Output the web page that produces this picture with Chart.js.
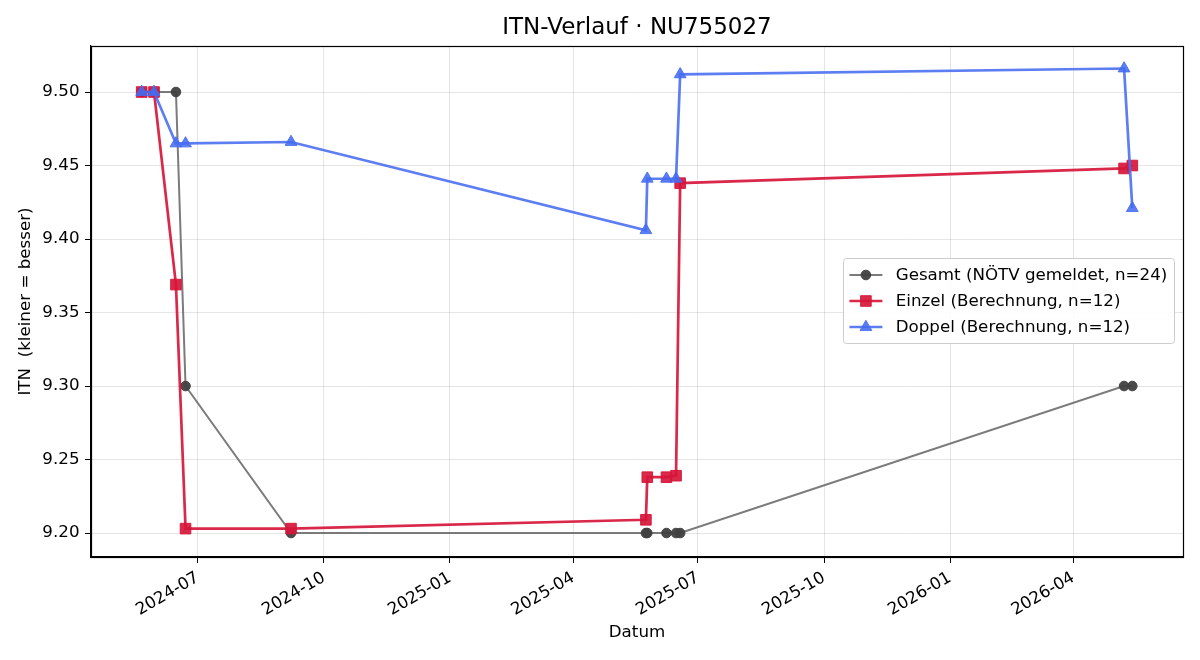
<!DOCTYPE html>
<html>
<head>
<meta charset="utf-8">
<script src="https://cdn.jsdelivr.net/npm/chart.js@4.4.1/dist/chart.umd.min.js"></script>
<style>
  html, body { margin: 0; padding: 0; background: #fff; }
  #wrap { width: 1200px; height: 660px; }
</style>
</head>
<body>
<div id="wrap"><canvas id="chart" width="1200" height="660"></canvas></div>
<script>
// Daten
var titel = 'ITN-Verlauf \u00b7 NU755027';
var datum = ['2024-05-21', '2024-05-30', '2024-06-15', '2024-06-22', '2024-09-07', '2025-05-24',
             '2025-05-25', '2025-06-08', '2025-06-15', '2025-06-18', '2026-05-08', '2026-05-14'];
var gesamt = [9.50, 9.50, 9.50, 9.30, 9.20, 9.20, 9.20, 9.20, 9.20, 9.20, 9.30, 9.30];
var einzel = [9.50, 9.50, 9.369, 9.203, 9.203, 9.209, 9.238, 9.238, 9.239, 9.438, 9.448, 9.450];
var doppel = [9.50, 9.50, 9.465, 9.465, 9.466, 9.406, 9.441, 9.441, 9.441, 9.512, 9.516, 9.421];
var serienNamen = ['Gesamt (N\u00d6TV gemeldet, n=24)', 'Einzel (Berechnung, n=12)', 'Doppel (Berechnung, n=12)'];
var xTickDaten = ['2024-07-01', '2024-10-01', '2025-01-01', '2025-04-01', '2025-07-01', '2025-10-01', '2026-01-01', '2026-04-01'];
var xTickLabels = ['2024-07', '2024-10', '2025-01', '2025-04', '2025-07', '2025-10', '2026-01', '2026-04'];
var yTicks = [9.20, 9.25, 9.30, 9.35, 9.40, 9.45, 9.50];

var FONT = "'DejaVu Sans', 'Liberation Sans', sans-serif";
var FS = 16.7;

function ts(s) {
    return Date.parse(s + 'T00:00:00Z');
}

function punkte(werte) {
    return werte.map(function (v, i) { return { x: ts(datum[i]), y: v }; });
}

var farben = {
    gesamtLinie: 'rgba(100,100,100,0.85)',
    gesamtPunkt: 'rgba(64,64,64,0.95)',
    einzel: 'rgba(214,22,58,0.92)',
    doppel: 'rgba(70,108,240,0.88)'
};

var titelPlugin = {
    id: 'titelPlugin',
    afterDraw: function (chart) {
        var ctx = chart.ctx, a = chart.chartArea;
        ctx.save();
        ctx.fillStyle = '#000';
        ctx.font = '23px ' + FONT;
        ctx.textAlign = 'center';
        ctx.textBaseline = 'middle';
        ctx.fillText(titel, (a.left + a.right) / 2, 28);
        ctx.restore();
    }
};

var rahmenPlugin = {
    id: 'rahmenPlugin',
    afterDatasetsDraw: function (chart) {
        var ctx = chart.ctx, a = chart.chartArea;
        ctx.save();
        ctx.strokeStyle = '#000';
        ctx.lineWidth = 1.2;
        ctx.strokeRect(Math.round(a.left) + 0.5, Math.round(a.top) + 0.5,
                       Math.round(a.right - a.left), Math.round(a.bottom - a.top));
        ctx.restore();
    }
};

function marker(ctx, stil, x, y, fuell, rand) {
    ctx.fillStyle = fuell;
    ctx.strokeStyle = rand;
    ctx.lineWidth = 1;
    ctx.beginPath();
    if (stil === 'circle') {
        ctx.arc(x, y, 4.8, 0, Math.PI * 2);
    } else if (stil === 'rect') {
        ctx.rect(x - 5.3, y - 5.3, 10.6, 10.6);
    } else {
        ctx.moveTo(x, y - 6.8);
        ctx.lineTo(x + 5.9, y + 3.4);
        ctx.lineTo(x - 5.9, y + 3.4);
        ctx.closePath();
    }
    ctx.fill();
    ctx.stroke();
}

var legendePlugin = {
    id: 'legendePlugin',
    afterDraw: function (chart) {
        var ctx = chart.ctx, a = chart.chartArea;
        ctx.save();
        ctx.font = FS + 'px ' + FONT;
        var maxB = 0;
        serienNamen.forEach(function (n) { maxB = Math.max(maxB, ctx.measureText(n).width); });
        var breite = 6.7 + 33 + 13.3 + maxB + 6.7;
        var hoehe = 85;
        var rechts = a.right - 9;
        var links = rechts - breite;
        var oben = (a.top + a.bottom) / 2 - hoehe / 2 - 1;
        ctx.fillStyle = 'rgba(255,255,255,0.85)';
        ctx.strokeStyle = '#cccccc';
        ctx.lineWidth = 1;
        ctx.beginPath();
        ctx.roundRect(Math.round(links) + 0.5, Math.round(oben) + 0.5, Math.round(breite), hoehe, 3);
        ctx.fill();
        ctx.stroke();
        chart.data.datasets.forEach(function (ds, i) {
            var y = oben + 17 + i * 26;
            var x0 = links + 6.7;
            ctx.strokeStyle = ds.borderColor;
            ctx.lineWidth = ds.borderWidth;
            ctx.beginPath();
            ctx.moveTo(x0, y);
            ctx.lineTo(x0 + 33, y);
            ctx.stroke();
            marker(ctx, ds.pointStyle, x0 + 16.5, y, ds.pointBackgroundColor, ds.pointBorderColor);
            ctx.fillStyle = '#000';
            ctx.textAlign = 'left';
            ctx.textBaseline = 'middle';
            ctx.fillText(serienNamen[i], x0 + 46.3, y + 1);
        });
        ctx.restore();
    }
};

var ctx = document.getElementById('chart').getContext('2d');

var chart = new Chart(ctx, {
    type: 'line',
    data: {
        datasets: [{
            label: serienNamen[0],
            data: punkte(gesamt),
            borderColor: farben.gesamtLinie,
            borderWidth: 2,
            pointStyle: 'circle',
            pointRadius: 4.8,
            pointBackgroundColor: farben.gesamtPunkt,
            pointBorderColor: farben.gesamtPunkt,
            pointBorderWidth: 1,
            order: 2
        }, {
            label: serienNamen[1],
            data: punkte(einzel),
            borderColor: farben.einzel,
            borderWidth: 2.7,
            pointStyle: 'rect',
            pointRadius: 7.5,
            pointBackgroundColor: farben.einzel,
            pointBorderColor: farben.einzel,
            pointBorderWidth: 1,
            order: 1
        }, {
            label: serienNamen[2],
            data: punkte(doppel),
            borderColor: farben.doppel,
            borderWidth: 2.7,
            pointStyle: 'triangle',
            pointRadius: 6.8,
            pointBackgroundColor: farben.doppel,
            pointBorderColor: farben.doppel,
            pointBorderWidth: 1,
            order: 0
        }]
    },
    options: {
        responsive: false,
        animation: false,
        layout: { padding: { left: 0, right: 17, top: 46, bottom: 0 } },
        plugins: {
            legend: { display: false },
            title: { display: false },
            tooltip: { enabled: false }
        },
        elements: { line: { tension: 0 } },
        scales: {
            x: {
                type: 'linear',
                min: ts('2024-04-14'),
                max: ts('2026-06-20'),
                afterBuildTicks: function (scale) {
                    scale.ticks = xTickDaten.map(function (d) { return { value: ts(d) }; });
                },
                afterFit: function (scale) { scale.height = 103; },
                ticks: {
                    autoSkip: false,
                    minRotation: 30,
                    maxRotation: 30,
                    padding: 5,
                    color: '#000',
                    font: { family: FONT, size: FS },
                    callback: function (v, i) { return xTickLabels[i]; }
                },
                grid: { color: 'rgba(0,0,0,0.1)', tickColor: '#000', tickLength: 6, lineWidth: 1 },
                border: { color: '#000', width: 1.2 },
                title: {
                    display: true,
                    text: 'Datum',
                    color: '#000',
                    font: { family: FONT, size: FS },
                    padding: { top: 0, bottom: 17 }
                }
            },
            y: {
                min: 9.1837,
                max: 9.5313,
                afterBuildTicks: function (scale) {
                    scale.ticks = yTicks.map(function (v) { return { value: v }; });
                },
                afterFit: function (scale) { scale.width = 91; },
                ticks: {
                    padding: 5.5,
                    color: '#000',
                    font: { family: FONT, size: FS },
                    callback: function (v) { return Number(v).toFixed(2); }
                },
                grid: { color: 'rgba(0,0,0,0.1)', tickColor: '#000', tickLength: 6, lineWidth: 1 },
                border: { color: '#000', width: 1.2 },
                title: {
                    display: true,
                    text: 'ITN  (kleiner = besser)',
                    color: '#000',
                    font: { family: FONT, size: FS },
                    padding: { top: 16, bottom: 0 }
                }
            }
        }
    },
    plugins: [titelPlugin, rahmenPlugin, legendePlugin]
});
</script>
</body>
</html>
